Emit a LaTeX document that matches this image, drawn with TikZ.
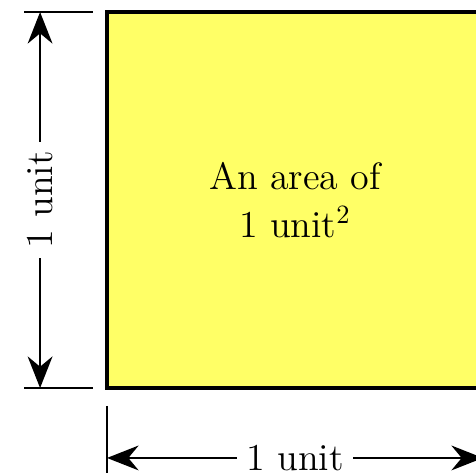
\documentclass[tikz,border=0pt]{standalone}
\usepackage{tikz}
\usetikzlibrary{arrows.meta,positioning,calc}
\definecolor{areayellow}{HTML}{FFFF66}
\begin{document}
\begin{tikzpicture}[
  region/.style={draw=black,fill=areayellow,line width=1.4pt},
  extline/.style={line width=0.8pt},
  dimarr/.style={{Stealth[length=4.2mm,width=3.3mm]}-{Stealth[length=4.2mm,width=3.3mm]},
    line width=0.8pt},
  dimlabel/.style={fill=white,inner xsep=3.5pt,inner ysep=1pt,font=\Large}
]
  \useasboundingbox (-1.423,-1.117) rectangle (4.907,5.160);

  % the unit square
  \draw[region] (0,0) rectangle (5,5);
  \node[font=\Large,align=center] (area) at (2.5,2.5) {An area of\\1 unit$^2$};

  % left dimension
  \coordinate (lt0) at (-1.10,5);
  \coordinate (lt1) at (-0.19,5);
  \coordinate (lb0) at (-1.10,0);
  \coordinate (lb1) at (-0.19,0);
  \coordinate (ltop) at (-0.89,5);
  \coordinate (lbot) at (-0.89,0);
  \draw[extline] (lt0) -- (lt1);
  \draw[extline] (lb0) -- (lb1);
  \draw[dimarr] (lbot) -- node[dimlabel,rotate=90] (lunit) {1 unit} (ltop);

  % bottom dimension
  \coordinate (bl0) at (0,-0.236);
  \coordinate (bl1) at (0,-1.2);
  \coordinate (bleft) at (0,-0.93);
  \coordinate (bright) at (5,-0.93);
  \draw[extline] (bl0) -- (bl1);
  \draw[dimarr] (bleft) -- node[dimlabel] (bunit) {1 unit} (bright);
\end{tikzpicture}
\end{document}
